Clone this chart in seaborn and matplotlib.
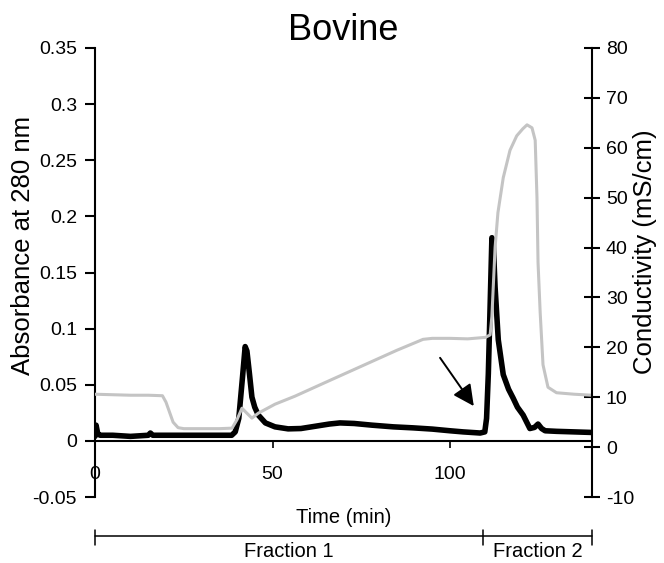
import matplotlib
matplotlib.use("Agg")
import matplotlib.pyplot as plt
import matplotlib.transforms as mtransforms
import numpy as np
import pandas as pd
import seaborn as sns

# ---------------- data ----------------
time_abs = [0, 0.3, 0.8, 1.5, 5, 10, 15, 15.6, 16.3, 20, 25, 30, 35, 38.5, 39.5,
            40.5, 41.5, 42.3, 42.8, 43.5, 44.2, 45, 46, 48, 50.7, 54.4, 58, 62,
            66, 69, 73, 78, 84, 89.6, 95, 100, 103.7, 108.5, 109.8, 110.3, 110.8,
            111.3, 111.8, 112.2, 112.7, 113.6, 115, 116.5, 117.8, 119, 120.6,
            122.5, 123.8, 124.8, 125.8, 126.8, 130, 135, 140]
absorbance = [0.004, 0.014, 0.006, 0.005, 0.005, 0.004, 0.005, 0.007, 0.005, 0.005,
              0.005, 0.005, 0.005, 0.005, 0.008, 0.02, 0.055, 0.084, 0.08, 0.06,
              0.039, 0.03, 0.023, 0.016, 0.0125, 0.0107, 0.011, 0.013, 0.015,
              0.016, 0.0155, 0.014, 0.0125, 0.0116, 0.0105, 0.009, 0.008, 0.007,
              0.008, 0.02, 0.06, 0.12, 0.181, 0.175, 0.137, 0.09, 0.059, 0.046,
              0.038, 0.03, 0.023, 0.011, 0.012, 0.015, 0.011, 0.009, 0.0085,
              0.008, 0.0075]

time_cond = [0, 5, 10, 15, 19, 20, 21, 22, 23.4, 25, 30, 35, 38.6, 40, 41.4, 42.5,
             44.2, 46, 50.7, 56.3, 65, 75, 85, 92.4, 95, 100, 105, 110, 111.3,
             111.8, 112.7, 113.5, 115, 116.9, 118.8, 120.5, 121.7, 123.1, 124,
             124.5, 124.8, 125.4, 126.2, 127.6, 130, 135, 140]
conductivity = [10.6, 10.5, 10.4, 10.4, 10.3, 9.0, 7.0, 5.0, 3.9, 3.7, 3.7, 3.7,
                3.8, 5.5, 7.8, 7.0, 5.8, 6.8, 8.6, 10.2, 13.0, 16.2, 19.4, 21.6,
                21.8, 21.8, 21.7, 22.0, 22.5, 26.2, 40.0, 47.0, 54.0, 59.5, 62.4,
                63.8, 64.6, 64.0, 61.5, 50.0, 37.0, 27.0, 16.5, 12.0, 10.9, 10.6,
                10.4]

xticks = [0, 50, 100]
left_ticks = [-0.05, 0, 0.05, 0.1, 0.15, 0.2, 0.25, 0.3, 0.35]
left_ticklabels = ["-0.05", "0", "0.05", "0.1", "0.15", "0.2", "0.25", "0.3", "0.35"]
right_ticks = [-10, 0, 10, 20, 30, 40, 50, 60, 70, 80]

fraction_bounds = [0, 109.3, 140]
fraction_labels = ["Fraction 1", "Fraction 2"]

arrow_start = (97.2, 0.074)
arrow_end = (106.7, 0.031)

# ---------------- style ----------------
sns.set_style("ticks")
plt.rcParams["font.family"] = ["Liberation Sans", "DejaVu Sans"]
for key in ["text.color", "axes.labelcolor", "xtick.color", "ytick.color",
            "axes.edgecolor"]:
    plt.rcParams[key] = "black"

W, H = 664, 563
fig = plt.figure(figsize=(W / 100, H / 100), dpi=100)
left_px, right_px, top_px, bottom_px = 95, 592, 48, 497
ax = fig.add_axes([left_px / W, 1 - bottom_px / H,
                   (right_px - left_px) / W, (bottom_px - top_px) / H])

df_abs = pd.DataFrame({"Time": time_abs, "Abs": absorbance})
df_cond = pd.DataFrame({"Time": time_cond, "Cond": conductivity})

sns.lineplot(data=df_abs, x="Time", y="Abs", ax=ax, color="black",
             linewidth=4.0, legend=False)
ax.set_xlim(0, 140)
ax.set_ylim(-0.05, 0.35)

ax2 = ax.twinx()
sns.lineplot(data=df_cond, x="Time", y="Cond", ax=ax2, color="#c4c4c4",
             linewidth=2.2, legend=False)
ax2.set_ylim(-10, 80)
ax2.set_xlim(0, 140)

# spines
for s in ["top", "right"]:
    ax.spines[s].set_visible(False)
ax.spines["bottom"].set_position(("data", 0))
ax.spines["bottom"].set_linewidth(1.5)
ax.spines["left"].set_linewidth(1.5)
for s in ["top", "left", "bottom"]:
    ax2.spines[s].set_visible(False)
ax2.spines["right"].set_linewidth(1.5)
for sp in list(ax.spines.values()) + list(ax2.spines.values()):
    sp.set_color("black")

# ticks
ax.set_xticks(xticks)
ax.set_xticklabels([str(v) for v in xticks])
ax.set_yticks(left_ticks)
ax.set_yticklabels(left_ticklabels)
ax2.set_yticks(right_ticks)
ax2.set_yticklabels([str(v) for v in right_ticks])

ax.tick_params(axis="x", direction="out", length=5, width=1.2, pad=13,
               labelsize=14, colors="black")
ax.tick_params(axis="y", direction="out", length=7, width=1.5, pad=6,
               labelsize=14, colors="black")
ax2.tick_params(axis="y", direction="inout", length=12, width=1.5, pad=4,
                labelsize=14, colors="black")

# labels
ax.set_xlabel("Time (min)", fontsize=14.5, color="black")
ax.xaxis.set_label_coords(0.5, -0.025)
ax.set_ylabel("Absorbance at 280 nm", fontsize=18.5, color="black")
ax.yaxis.label.set(rotation_mode="default", va="center", ha="center")
ax.yaxis.set_label_coords(-0.145, 0.561)
ax2.set_ylabel("Conductivity (mS/cm)", fontsize=18.5, color="black")
ax2.yaxis.label.set(rotation_mode="default", va="center", ha="center", rotation=90)
ax2.yaxis.set_label_coords(1.107, 0.546)

ax.set_title("Bovine", fontsize=26, pad=5, color="black")

# arrow
ax.annotate("", xy=arrow_end, xytext=arrow_start,
            arrowprops=dict(arrowstyle="-|>", color="black", lw=1.4,
                            mutation_scale=32, shrinkA=0, shrinkB=0))

# fraction bracket
trans = mtransforms.blended_transform_factory(ax.transData, ax.transAxes)
y_line = -0.087
ax.plot([fraction_bounds[0], fraction_bounds[-1]], [y_line, y_line],
        color="black", lw=1.1, transform=trans, clip_on=False)
for b in fraction_bounds:
    ax.plot([b, b], [-0.0735, -0.107], color="black", lw=1.1,
            transform=trans, clip_on=False)
for i, lab in enumerate(fraction_labels):
    mid = (fraction_bounds[i] + fraction_bounds[i + 1]) / 2
    ax.text(mid, -0.122, lab, transform=trans, ha="center", va="center",
            fontsize=14.5, color="black")

fig.savefig("out.png", dpi=100)
